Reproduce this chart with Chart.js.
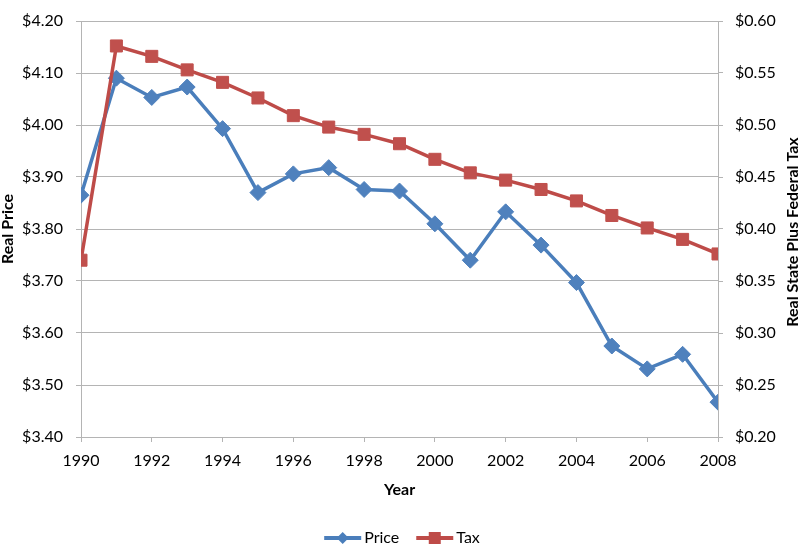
<!DOCTYPE html>
<html>
<head>
<meta charset="utf-8">
<script src="https://cdn.jsdelivr.net/npm/chart.js@4"></script>
<style>
    body { margin: 0; background: #fff; }
</style>
</head>
<body>
<canvas id="chart" width="800" height="545"></canvas>
<script>

const years = [1990, 1991, 1992, 1993, 1994, 1995, 1996, 1997, 1998, 1999,
    2000, 2001, 2002, 2003, 2004, 2005, 2006, 2007, 2008]

const price = [3.865, 4.090, 4.053, 4.073, 3.993, 3.870, 3.906, 3.918, 3.876, 3.873,
    3.810, 3.740, 3.833, 3.769, 3.697, 3.575, 3.531, 3.559, 3.467]

const tax = [0.370, 0.576, 0.566, 0.553, 0.541, 0.526, 0.509, 0.498, 0.491, 0.482,
    0.467, 0.454, 0.447, 0.438, 0.427, 0.413, 0.401, 0.390, 0.376]

const seriesNames = ['Price', 'Tax']
const axisTitles = { x: 'Year', left: 'Real Price', right: 'Real State Plus Federal Tax' }

const BLUE = '#4A7EBB'
const RED = '#BE4B48'
const GRID = '#b4b4b4'
const FONT = 'Lato'

function points(values) {
    return years.map((yr, i) => ({ x: yr, y: values[i] }))
}

// right axis title reads bottom-to-top, and the legend is line + marker like Excel
const extras = {
    id: 'extras',
    afterDraw(chart) {
        const ctx = chart.ctx
        const area = chart.chartArea

        ctx.save()
        ctx.fillStyle = '#000'
        ctx.font = 'bold 16px ' + FONT
        ctx.textAlign = 'center'
        ctx.textBaseline = 'middle'
        ctx.translate(793, (area.top + area.bottom) / 2 + 3)
        ctx.rotate(-Math.PI / 2)
        ctx.fillText(axisTitles.right, 0, 0)
        ctx.restore()

        // legend
        ctx.save()
        ctx.font = '16px ' + FONT
        ctx.textBaseline = 'middle'
        const lineLen = 37, gap = 3, between = 17, y = 538
        const widths = seriesNames.map(n => ctx.measureText(n).width)
        const total = widths.reduce((a, w) => a + lineLen + gap + w, 0) + between
        let x = 402 - total / 2
        seriesNames.forEach((name, i) => {
            const color = i === 0 ? BLUE : RED
            ctx.strokeStyle = color
            ctx.lineWidth = 4
            ctx.beginPath()
            ctx.moveTo(x, y)
            ctx.lineTo(x + lineLen, y)
            ctx.stroke()
            ctx.fillStyle = color
            const cx = x + lineLen / 2
            ctx.beginPath()
            if (i === 0) {
                ctx.moveTo(cx, y - 6)
                ctx.lineTo(cx + 6, y)
                ctx.lineTo(cx, y + 6)
                ctx.lineTo(cx - 6, y)
                ctx.closePath()
            } else {
                ctx.rect(cx - 6, y - 6, 12, 12)
            }
            ctx.fill()
            ctx.fillStyle = '#000'
            ctx.fillText(name, x + lineLen + gap, y)
            x += lineLen + gap + widths[i] + between
        })
        ctx.restore()
    }
}

new Chart(document.getElementById('chart').getContext('2d'), {
    type: 'line',
    data: {
        datasets: [
            {
                label: seriesNames[0],
                data: points(price),
                yAxisID: 'y',
                borderColor: BLUE,
                backgroundColor: '#4F81BD',
                borderWidth: 3.5,
                pointStyle: 'rectRot',
                pointRadius: 8,
                pointBorderWidth: 1,
                pointBorderColor: '#4F81BD',
                tension: 0,
                order: 2
            },
            {
                label: seriesNames[1],
                data: points(tax),
                yAxisID: 'y1',
                borderColor: RED,
                backgroundColor: '#C0504D',
                borderWidth: 3.5,
                pointStyle: 'rect',
                pointRadius: 8.5,
                pointBorderWidth: 1,
                pointBorderColor: '#C0504D',
                tension: 0,
                order: 1
            }
        ]
    },
    options: {
        responsive: false,
        animation: false,
        layout: { padding: 0 },
        plugins: {
            legend: { display: false },
            tooltip: { enabled: false }
        },
        scales: {
            x: {
                type: 'linear',
                min: 1990,
                max: 2008,
                afterFit: s => { s.height = 108 },
                ticks: {
                    stepSize: 2,
                    padding: 11,
                    color: '#000',
                    font: { family: FONT, size: 16, lineHeight: 1 },
                    callback: v => String(v)
                },
                grid: { drawOnChartArea: false, tickLength: 5, color: GRID },
                border: { color: GRID },
                title: {
                    display: true,
                    text: axisTitles.x,
                    color: '#000',
                    font: { family: FONT, size: 16, weight: 'bold', lineHeight: 1 },
                    padding: { top: 0, bottom: 47 }
                }
            },
            y: {
                position: 'left',
                min: 3.4,
                max: 4.2,
                afterFit: s => { s.width = 81 },
                ticks: {
                    stepSize: 0.1,
                    padding: 13,
                    color: '#000',
                    font: { family: FONT, size: 16, lineHeight: 1 },
                    callback: v => '$' + v.toFixed(2)
                },
                grid: { color: GRID, tickLength: 5 },
                border: { color: GRID },
                title: {
                    display: true,
                    text: axisTitles.left,
                    color: '#000',
                    font: { family: FONT, size: 16, weight: 'bold', lineHeight: 1 },
                    padding: 0
                }
            },
            y1: {
                position: 'right',
                min: 0.2,
                max: 0.6,
                afterFit: s => { s.width = 82 },
                ticks: {
                    stepSize: 0.05,
                    padding: 12,
                    color: '#000',
                    font: { family: FONT, size: 16, lineHeight: 1 },
                    callback: v => '$' + v.toFixed(2)
                },
                grid: { drawOnChartArea: false, color: GRID, tickLength: 5 },
                border: { color: GRID }
            }
        }
    },
    plugins: [extras]
})
</script>
</body>
</html>
